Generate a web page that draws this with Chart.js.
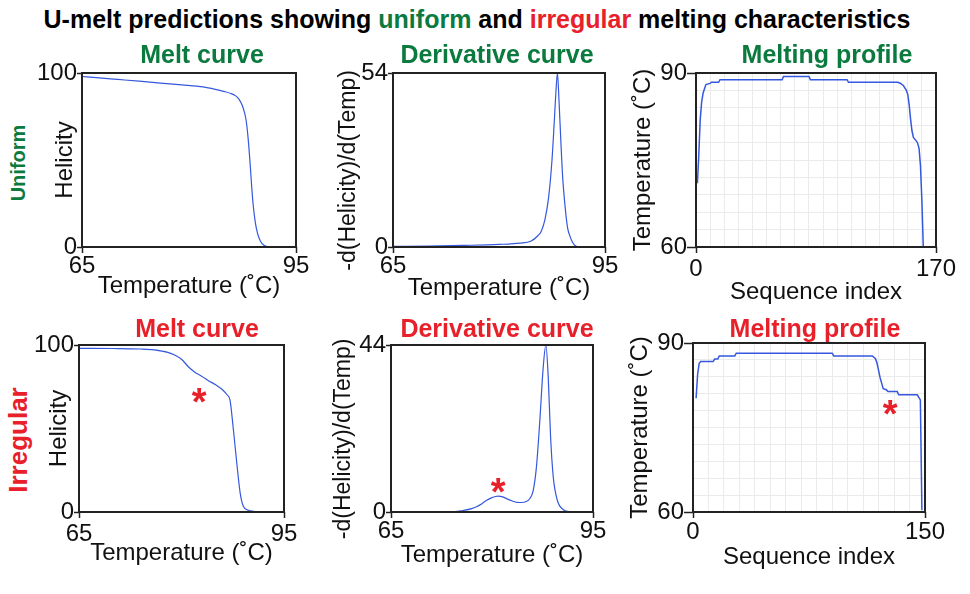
<!DOCTYPE html>
<html>
<head>
<meta charset="utf-8">
<script src="https://cdn.jsdelivr.net/npm/chart.js@4.4.1/dist/chart.umd.min.js"></script>
<style>
  body { margin: 0; background: #fff; width: 970px; height: 594px; position: relative; overflow: hidden;
         font-family: "Liberation Sans", Arial, Helvetica, sans-serif; }
  canvas { position: absolute; }
  #title { position: absolute; left: 0; top: 0; width: 954px; line-height: 38px; text-align: center;
           font-weight: bold; font-size: 25px; color: #000; white-space: nowrap; }
  .row { position: absolute; transform: translate(-50%, -50%) rotate(-90deg); font-weight: bold;
         white-space: nowrap; line-height: 1; }
</style>
</head>
<body>
<div id="title">U-melt predictions showing <span style="color:#0b7a3e">uniform</span> and <span style="color:#e8202a">irregular</span> melting characteristics</div>
<div class="row" style="left:18px;top:163px;font-size:20px;color:#0b7a3e">Uniform</div>
<div class="row" style="left:18px;top:440px;font-size:26px;color:#e8202a">Irregular</div>
<script>
const GREEN = "#0b7a3e";
const RED = "#e8202a";
const LINE = "#3558de";
const INK = "#111";
const FONT = '"Liberation Sans", Arial, Helvetica, sans-serif';

// ---- uniform row ----
const uniformMeltTemp = [65, 67, 70, 73, 76, 79, 82, 84, 85, 86, 86.5, 87, 87.5, 88, 88.3, 88.6, 88.8, 89, 89.3, 89.6, 90, 90.5, 91, 92, 95];
const uniformMeltHel = [98, 97.3, 96.3, 95.3, 94.2, 93.2, 92.0, 90.3, 89.3, 88, 87, 85, 81, 73, 62, 46, 34, 24, 14, 8, 3.5, 1, 0.2, 0, 0];

const uniformDerivTemp = [65, 70, 75, 80, 83, 84.5, 85.5, 86, 86.5, 87, 87.5, 87.8, 88.05, 88.27, 88.5, 88.75, 89, 89.35, 89.7, 90.05, 90.4, 90.8, 91.5, 95];
const uniformDerivVal = [0.2, 0.3, 0.5, 0.8, 1.2, 1.8, 3.5, 5, 8.5, 15, 27, 38, 48, 54, 45, 33, 22, 12.6, 6, 3.3, 1.5, 0.4, 0, 0];

const uniformProfIdx = [1, 2, 3, 4, 5, 7, 10, 11, 16, 17, 61, 62, 80, 81, 107, 108, 143, 145, 147, 149, 150, 151, 152, 153, 154, 156, 157, 158, 159, 160, 161];
const uniformProfTemp = [71, 76, 82, 85, 86.5, 88.0, 88.2, 88.4, 88.4, 88.85, 88.85, 89.4, 89.4, 88.85, 88.85, 88.4, 88.4, 88.2, 87.8, 87, 86.3, 84.5, 82, 80, 78.9, 78.3, 77.9, 77, 74, 68, 60];

// ---- irregular row ----
const irregMeltTemp = [65, 70, 74, 76, 78, 79, 80, 81, 82, 83, 84, 85, 86, 86.6, 87.1, 87.4, 87.8, 88.2, 88.6, 89.05, 89.8, 90.5, 91.2];
const irregMeltHel = [98, 97.9, 97.6, 97.1, 95.6, 94, 91.5, 87, 83.6, 81.2, 78.5, 76.2, 73.2, 70.5, 67, 57, 41, 25, 11, 3.4, 1, 0.4, 0.2];

const irregDerivTemp = [65, 74, 75.7, 77, 77.7, 78.5, 79.2, 80, 80.9, 81.6, 82.3, 83, 83.7, 84.4, 85, 85.6, 86.1, 86.6, 87.1, 87.6, 88.0, 88.35, 88.7, 89.1, 89.7, 90.6, 91.5, 95];
const irregDerivVal = [0, 0, 0.4, 0.9, 1.4, 2.2, 3.1, 3.8, 4.2, 4.0, 3.4, 2.9, 2.55, 2.5, 2.7, 3.5, 5.5, 11.9, 24, 38, 44, 35.6, 19.8, 9.2, 3.1, 0.6, 0.1, 0];

const irregProfIdx = [2, 3, 4, 5, 13, 14, 16, 17, 27, 28, 90, 91, 116, 118, 119, 121, 123, 125, 126, 127, 132, 133, 145, 147, 148];
const irregProfTemp = [80.2, 84.5, 86.4, 86.7, 86.7, 87.15, 87.15, 87.7, 87.7, 88.2, 88.2, 87.7, 87.7, 87.2, 86.4, 83.8, 81.9, 81.7, 81.4, 81.4, 81.4, 80.8, 80.8, 79.9, 60.3];

// asterisks marking the irregular shoulder [x, y]
const irregMeltStar = [82.6, 70];
const irregDerivStar = [80.9, 6.9];
const irregProfStar = [127.4, 78.5];

const XH = 60; // height of x axis box

// titles, frame and asterisks
const panelText = {
  id: "panelText",
  afterDraw(chart, args, opts) {
    const ctx = chart.ctx;
    const a = chart.chartArea;
    ctx.save();
    ctx.strokeStyle = "#222";
    ctx.lineWidth = 2;
    ctx.strokeRect(a.left, a.top, a.right - a.left, a.bottom - a.top);

    ctx.fillStyle = opts.color;
    ctx.font = "bold 25px " + FONT;
    ctx.textAlign = "center";
    ctx.textBaseline = "alphabetic";
    ctx.fillText(opts.title, opts.titleX, opts.titleY);

    if (opts.star) {
      ctx.font = "bold 38px " + FONT;
      const m = ctx.measureText("*");
      const px = chart.scales.x.getPixelForValue(opts.star[0]);
      const py = chart.scales.y.getPixelForValue(opts.star[1]);
      const base = py + (m.actualBoundingBoxAscent - m.actualBoundingBoxDescent) / 2;
      ctx.fillStyle = RED;
      ctx.fillText("*", px, base);
    }
    ctx.restore();
  },
};

function makePanel(p) {
  const canvas = document.createElement("canvas");
  canvas.width = p.cw;
  canvas.height = p.ch;
  canvas.style.left = p.cx + "px";
  canvas.style.top = p.cy + "px";
  document.body.appendChild(canvas);

  const isEnd = (v, s) => v === s.min || v === s.max;
  const tickFont = { family: FONT, size: 24 };

  function axisGrid(tl) {
    if (!p.grid) {
      return { display: true, drawOnChartArea: false, drawTicks: true, tickLength: tl, tickColor: "#222", tickWidth: 1.5 };
    }
    return {
      display: true,
      drawOnChartArea: true,
      drawTicks: true,
      tickLength: tl,
      lineWidth: 1,
      tickWidth: 1.5,
      color: (c) => (c.tick && isEnd(c.tick.value, c.scale) ? "rgba(0,0,0,0)" : "#ebebeb"),
      tickColor: (c) => (c.tick && isEnd(c.tick.value, c.scale) ? "#222" : "rgba(0,0,0,0)"),
    };
  }

  const endsOnly = (s) => {
    s.ticks = [{ value: s.min }, { value: s.max }];
  };

  const yTitleSize = p.yTitleSize || 24;

  new Chart(canvas, {
    type: "line",
    data: {
      datasets: [
        {
          data: p.xs.map((x, i) => ({ x: x, y: p.ys[i] })),
          borderColor: LINE,
          borderWidth: p.lw,
          pointRadius: 0,
          fill: false,
          tension: p.smooth ? 0.4 : 0,
          cubicInterpolationMode: p.smooth ? "monotone" : "default",
        },
      ],
    },
    options: {
      responsive: false,
      animation: false,
      devicePixelRatio: 1,
      layout: {
        padding: {
          left: 0,
          top: p.T - p.cy,
          right: p.cx + p.cw - p.R,
          bottom: p.cy + p.ch - p.B - XH,
        },
      },
      plugins: {
        legend: { display: false },
        tooltip: { enabled: false },
        panelText: {
          title: p.title,
          color: p.color,
          titleX: p.titleX - p.cx,
          titleY: p.titleY - p.cy,
          star: p.star,
        },
      },
      scales: {
        x: {
          type: "linear",
          min: p.xmin,
          max: p.xmax,
          afterBuildTicks: p.grid ? undefined : endsOnly,
          afterFit: (s) => {
            s.height = XH;
          },
          ticks: {
            stepSize: p.xstep,
            autoSkip: false,
            maxRotation: 0,
            font: tickFont,
            color: INK,
            padding: p.xTickDy - 6 - 14.4,
            callback: (v) => (v === p.xmin || v === p.xmax ? String(v) : ""),
          },
          grid: axisGrid(6),
          border: { display: false },
          title: {
            display: true,
            text: p.xTitle,
            font: { family: FONT, size: 24 },
            color: INK,
            padding: { top: 0, bottom: XH - p.xTitleDy - 14.4 },
          },
        },
        y: {
          type: "linear",
          min: p.ymin,
          max: p.ymax,
          afterBuildTicks: p.grid ? undefined : endsOnly,
          afterFit: (s) => {
            s.width = p.L - p.cx;
          },
          ticks: {
            stepSize: p.ystep,
            autoSkip: false,
            font: tickFont,
            color: INK,
            padding: 0,
            callback: (v) => (v === p.ymin || v === p.ymax ? String(v) : ""),
          },
          grid: axisGrid(p.grid ? 9 : 5),
          border: { display: false },
          title: {
            display: true,
            text: p.yTitle,
            font: { family: FONT, size: yTitleSize },
            color: INK,
            padding: { top: p.yTitleX - p.cx - (yTitleSize * 1.2) / 2, bottom: 0 },
          },
        },
      },
    },
    plugins: [panelText],
  });
}

const TEMP_LABEL = "Temperature (\u02DAC)";
// trailing spaces push the rotated label a little lower, as in the original
const DERIV_LABEL = "-d(Helicity)/d(Temp)\u2002\u2009\u2009";

makePanel({
  cx: 0, cy: 40, cw: 320, ch: 270, L: 82, T: 73, R: 296, B: 247,
  xs: uniformMeltTemp, ys: uniformMeltHel, smooth: true, lw: 1.2,
  xmin: 65, xmax: 95, ymin: 0, ymax: 100,
  xTitle: TEMP_LABEL, yTitle: "Helicity", yTitleX: 65, xTickDy: 19, xTitleDy: 39,
  title: "Melt curve", color: GREEN, titleX: 202, titleY: 63,
});
makePanel({
  cx: 320, cy: 40, cw: 300, ch: 270, L: 393, T: 73, R: 605, B: 247,
  xs: uniformDerivTemp, ys: uniformDerivVal, smooth: true, lw: 1.2,
  xmin: 65, xmax: 95, ymin: 0, ymax: 54,
  xTitle: TEMP_LABEL, yTitle: DERIV_LABEL, yTitleSize: 23, yTitleX: 349, xTickDy: 19, xTitleDy: 41,
  title: "Derivative curve", color: GREEN, titleX: 497, titleY: 63,
});
makePanel({
  cx: 620, cy: 40, cw: 350, ch: 270, L: 696, T: 73, R: 936, B: 247,
  xs: uniformProfIdx, ys: uniformProfTemp, smooth: false, lw: 1.5, grid: true,
  xmin: 0, xmax: 170, xstep: 10, ymin: 60, ymax: 90, ystep: 3,
  xTitle: "Sequence index", yTitle: "Temperature (\u02DAC)", yTitleX: 643, xTickDy: 22, xTitleDy: 45,
  title: "Melting profile", color: GREEN, titleX: 827, titleY: 63,
});
makePanel({
  cx: 0, cy: 310, cw: 320, ch: 284, L: 79, T: 345, R: 284, B: 512,
  xs: irregMeltTemp, ys: irregMeltHel, smooth: true, lw: 1.2,
  xmin: 65, xmax: 95, ymin: 0, ymax: 100,
  xTitle: TEMP_LABEL, yTitle: "Helicity", yTitleX: 59, xTickDy: 22, xTitleDy: 41,
  title: "Melt curve", color: RED, titleX: 197, titleY: 337, star: irregMeltStar,
});
makePanel({
  cx: 320, cy: 310, cw: 300, ch: 284, L: 391, T: 345, R: 593, B: 512,
  xs: irregDerivTemp, ys: irregDerivVal, smooth: true, lw: 1.2,
  xmin: 65, xmax: 95, ymin: 0, ymax: 44,
  xTitle: TEMP_LABEL, yTitle: DERIV_LABEL, yTitleSize: 23, yTitleX: 344, xTickDy: 19, xTitleDy: 43,
  title: "Derivative curve", color: RED, titleX: 497, titleY: 337, star: irregDerivStar,
});
makePanel({
  cx: 620, cy: 310, cw: 350, ch: 284, L: 693, T: 343, R: 925, B: 512,
  xs: irregProfIdx, ys: irregProfTemp, smooth: false, lw: 1.5, grid: true,
  xmin: 0, xmax: 150, xstep: 10, ymin: 60, ymax: 90, ystep: 3,
  xTitle: "Sequence index", yTitle: "Temperature (\u02DAC)", yTitleX: 640, xTickDy: 20, xTitleDy: 45,
  title: "Melting profile", color: RED, titleX: 815, titleY: 337, star: irregProfStar,
});
</script>
</body>
</html>
